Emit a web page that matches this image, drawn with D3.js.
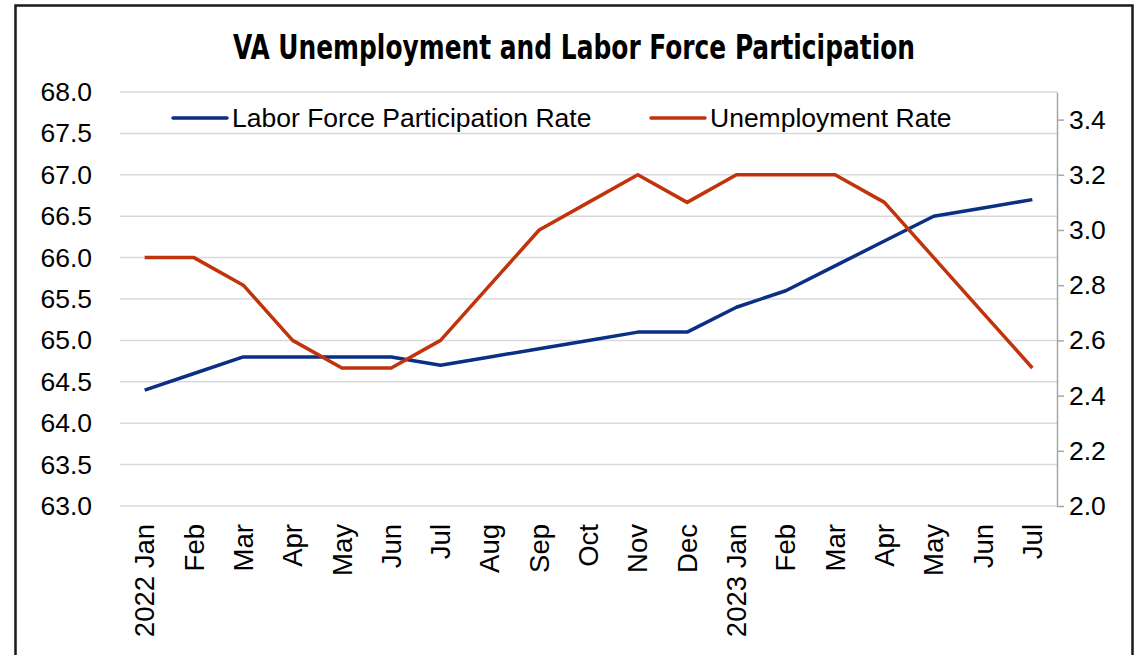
<!DOCTYPE html>
<html>
<head>
<meta charset="utf-8">
<script src="https://cdn.jsdelivr.net/npm/d3@7"></script>
<style>
  html, body { margin: 0; padding: 0; background: #fff; }
  svg { display: block; }
</style>
</head>
<body>
<svg id="chart" width="1138" height="655"></svg>
<script>
// Monthly categories, Jan 2022 – Jul 2023
const months = ["2022 Jan","Feb","Mar","Apr","May","Jun","Jul","Aug","Sep","Oct","Nov","Dec",
                "2023 Jan","Feb","Mar","Apr","May","Jun","Jul"];
// Labor force participation rate (%), left axis
const participation = [64.4,64.6,64.8,64.8,64.8,64.8,64.7,64.8,64.9,65.0,65.1,65.1,
                       65.4,65.6,65.9,66.2,66.5,66.6,66.7];
// Unemployment rate (%), right axis
const unemployment = [2.9,2.9,2.8,2.6,2.5,2.5,2.6,2.8,3.0,3.1,3.2,3.1,
                      3.2,3.2,3.2,3.1,2.9,2.7,2.5];
const leftTicks = [63.0,63.5,64.0,64.5,65.0,65.5,66.0,66.5,67.0,67.5,68.0];
const rightTicks = [2.0,2.2,2.4,2.6,2.8,3.0,3.2,3.4];
const seriesNames = ["Labor Force Participation Rate","Unemployment Rate"];
const titleText = "VA Unemployment and Labor Force Participation";

const plot = { left: 120, right: 1057, top: 92, bottom: 506 };
const blue = "#0b2f84", red = "#c0330b";
const labelFont = "'Liberation Sans', Arial, sans-serif";
const labelSize = 26.5;

const svg = d3.select("#chart");

// outer frame
svg.append("rect")
  .attr("x", 15.5).attr("y", 5.5)
  .attr("width", 1117).attr("height", 700)
  .attr("fill", "none").attr("stroke", "#1a1a1a").attr("stroke-width", 2.5);

const x = d3.scaleBand().domain(d3.range(months.length))
  .range([plot.left, plot.right]);
const xc = i => x(i) + x.bandwidth() / 2;
const yL = d3.scaleLinear().domain([63, 68]).range([plot.bottom, plot.top]);
const yR = d3.scaleLinear().domain([2.0, 3.5]).range([plot.bottom, plot.top]);

// horizontal gridlines from left axis ticks
svg.append("g").selectAll("line").data(leftTicks).join("line")
  .attr("x1", plot.left).attr("x2", plot.right)
  .attr("y1", d => yL(d)).attr("y2", d => yL(d))
  .attr("stroke", "#d9d9d9").attr("stroke-width", 1.5);

// left axis (labels only)
const leftAxis = svg.append("g")
  .attr("transform", `translate(${plot.left},0)`)
  .call(d3.axisLeft(yL).tickValues(leftTicks).tickFormat(d3.format(".1f"))
        .tickSize(0).tickPadding(28));
leftAxis.select(".domain").remove();
leftAxis.selectAll("text")
  .attr("font-family", labelFont).attr("font-size", labelSize).attr("fill", "#000");

// right axis
const rightAxis = svg.append("g")
  .attr("transform", `translate(${plot.right},0)`)
  .call(d3.axisRight(yR).tickValues(rightTicks).tickFormat(d3.format(".1f"))
        .tickSize(7).tickSizeOuter(0).tickPadding(5));
rightAxis.select(".domain").attr("stroke", "#a6a6a6").attr("stroke-width", 1.5);
rightAxis.selectAll(".tick line").attr("stroke", "#a6a6a6").attr("stroke-width", 1.5);
rightAxis.selectAll("text")
  .attr("font-family", labelFont).attr("font-size", labelSize).attr("fill", "#000");

// category axis, labels rotated vertically
const bottomAxis = svg.append("g")
  .attr("transform", `translate(0,${plot.bottom})`)
  .call(d3.axisBottom(x).tickFormat(i => months[i]).tickSize(0));
bottomAxis.select(".domain").remove();
bottomAxis.selectAll("text")
  .attr("font-family", labelFont).attr("font-size", 27.5).attr("fill", "#000")
  .attr("transform", "rotate(-90)")
  .attr("text-anchor", "end")
  .attr("dy", "0.35em")
  .attr("x", -18).attr("y", 0);

// series lines
const lineL = d3.line().x((d, i) => xc(i)).y(d => yL(d));
const lineR = d3.line().x((d, i) => xc(i)).y(d => yR(d));
svg.append("path").datum(participation)
  .attr("d", lineL).attr("fill", "none")
  .attr("stroke", blue).attr("stroke-width", 3.5).attr("stroke-linejoin", "round");
svg.append("path").datum(unemployment)
  .attr("d", lineR).attr("fill", "none")
  .attr("stroke", red).attr("stroke-width", 3.5).attr("stroke-linejoin", "round");

// legend
const legendItems = [
  { name: seriesNames[0], color: blue, x: 173 },
  { name: seriesNames[1], color: red, x: 651 }
];
const lg = svg.append("g").selectAll("g").data(legendItems).join("g")
  .attr("transform", d => `translate(${d.x},118)`);
lg.append("line").attr("x1", 0).attr("x2", 54)
  .attr("stroke", d => d.color).attr("stroke-width", 3.5).attr("stroke-linecap", "round");
lg.append("text").attr("x", 59).attr("dy", "0.35em")
  .attr("font-family", labelFont).attr("font-size", labelSize).attr("fill", "#000")
  .text(d => d.name);

// title
svg.append("text")
  .attr("x", 574).attr("y", 59)
  .attr("text-anchor", "middle")
  .attr("font-family", "'Liberation Sans Narrow', 'DejaVu Sans Condensed', 'Arial Narrow', sans-serif")
  .attr("font-weight", "bold").attr("font-size", 33)
  .attr("textLength", 682).attr("lengthAdjust", "spacingAndGlyphs")
  .text(titleText);
</script>
</body>
</html>
